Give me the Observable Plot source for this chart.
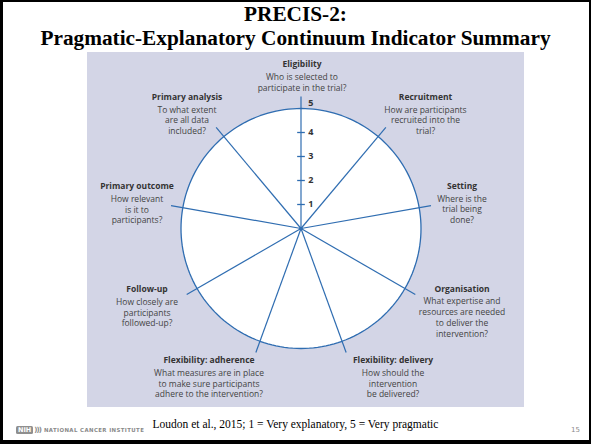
<!DOCTYPE html>
<html>
<head>
<meta charset="utf-8">
<script src="https://cdn.jsdelivr.net/npm/d3@7"></script>
<script src="https://cdn.jsdelivr.net/npm/@observablehq/plot@0.6"></script>
<style>
  html, body { margin: 0; padding: 0; background: #fff; }
  #slide { position: relative; width: 591px; height: 444px; overflow: hidden; background: #fff; }
  #frame { position: absolute; left: 0; top: 0; width: 591px; height: 444px; box-sizing: border-box;
           border-style: solid; border-color: #000; border-width: 2px 2px 4px 3px; pointer-events: none; }
  #title { position: absolute; left: 0; top: 2px; width: 591px; text-align: center;
           font-family: "Liberation Serif", "Times New Roman", serif; font-weight: bold;
           font-size: 21.3px; line-height: 24px; color: #000; }
  #chart { position: absolute; left: 87px; top: 52px; }
  #cite { position: absolute; left: 0; width: 591px; top: 418px; text-align: center;
          font-family: "Liberation Serif", "Times New Roman", serif; font-size: 11.5px; color: #000; }
  #nih { position: absolute; left: 16px; top: 426px; height: 8px; display: flex; align-items: center;
         font-family: "DejaVu Sans", sans-serif; color: #8a8a8a; }
  #nih .box { background: #8f8f8f; color: #fff; font-weight: bold; font-size: 6.5px; line-height: 8px;
              padding: 0 2px; border-radius: 1.5px; }
  #nih .chev { font-size: 7px; font-weight: bold; margin: 0 3px 0 1px; letter-spacing: -1px; }
  #nih .name { font-size: 5.4px; font-weight: bold; letter-spacing: 0.4px; }
  #page { position: absolute; left: 571px; top: 426px; font-family: "DejaVu Sans", sans-serif;
          font-size: 7px; color: #8a8a8a; }
</style>
</head>
<body>
<div id="slide">
  <div id="title">PRECIS-2:<br>Pragmatic-Explanatory Continuum Indicator Summary</div>
  <div id="chart"></div>
  <div id="cite">Loudon et al., 2015; 1 = Very explanatory, 5 = Very pragmatic</div>
  <div id="nih"><span class="box">NIH</span><span class="chev">)))</span><span class="name">NATIONAL CANCER INSTITUTE</span></div>
  <div id="page">15</div>
  <div id="frame"></div>
</div>
<script>
// ---- data ----
const domains = [
  "Eligibility", "Recruitment", "Setting", "Organisation", "Flexibility: delivery",
  "Flexibility: adherence", "Follow-up", "Primary outcome", "Primary analysis"
];
const questions = [
  "Who is selected to\nparticipate in the trial?",
  "How are participants\nrecruited into the\ntrial?",
  "Where is the\ntrial being\ndone?",
  "What expertise and\nresources are needed\nto deliver the\nintervention?",
  "How should the\nintervention\nbe delivered?",
  "What measures are in place\nto make sure participants\nadhere to the intervention?",
  "How closely are\nparticipants\nfollowed-up?",
  "How relevant\nis it to\nparticipants?",
  "To what extent\nare all data\nincluded?"
];
const scaleTicks = [1, 2, 3, 4, 5];
const scaleMin = 0, scaleMax = 5;

// ---- layout (not data) ----
const unit = 24;                 // px per scale unit
const W = 437, H = 355, cx = 213.5, cy = 176;
const spokeLen = 5.5;
// label anchor offsets from centre, in px (right, down)
const labelOffsets = [
  [1, -164], [124.5, -131.3], [161, -42.3], [161, 60.3], [92, 132],
  [-92, 132], [-154, 61], [-164, -42], [-114, -131.3]
];
const blue = "#2f6db1";

const step = 360 / domains.length;
const spokes = domains.map((d, i) => {
  const a = (i * step) * Math.PI / 180;
  return {domain: d, x: spokeLen * Math.sin(a), y: spokeLen * Math.cos(a)};
});
const circle = d3.range(0, 361, 2).map(t => {
  const a = t * Math.PI / 180;
  return {x: scaleMax * Math.sin(a), y: scaleMax * Math.cos(a)};
});
const labels = domains.map((d, i) => ({
  domain: d, question: questions[i],
  x: labelOffsets[i][0] / unit, y: -labelOffsets[i][1] / unit
}));

const fontFamily = "'Open Sans', sans-serif";
const plot = Plot.plot({
  width: W, height: H, margin: 0,
  x: {domain: [-cx / unit, (W - cx) / unit], axis: null},
  y: {domain: [-(H - cy) / unit, cy / unit], axis: null},
  style: {background: "#d3d5e6", fontFamily, overflow: "visible"},
  marks: [
    Plot.line(circle, {x: "x", y: "y", fill: "white", stroke: blue, strokeWidth: 1.3}),
    Plot.link(spokes, {x1: scaleMin, y1: scaleMin, x2: "x", y2: "y", stroke: blue, strokeWidth: 1.2}),
    Plot.link(scaleTicks.filter(v => v < scaleMax), {x1: -0.16, x2: 0.16, y1: d => d, y2: d => d, stroke: blue, strokeWidth: 1.3}),
    Plot.dot([scaleMin], {x: scaleMin, y: scaleMin, r: 1.8, fill: blue, stroke: null}),
    Plot.text(scaleTicks.filter(v => v < scaleMax), {x: 0.3, y: d => d, text: d => String(d), textAnchor: "start",
      fontWeight: "bold", fontSize: 9, fill: "#333"}),
    Plot.text(scaleTicks.filter(v => v === scaleMax), {x: 0.3, y: d => d, dy: -5, text: d => String(d), textAnchor: "start",
      fontWeight: "bold", fontSize: 9, fill: "#333"}),
    Plot.text(labels, {x: "x", y: "y", text: "domain", fontWeight: "bold", fontSize: 8.5, fill: "#333"}),
    Plot.text(labels, {x: "x", y: "y", text: "question", lineAnchor: "top", dy: 7.7, lineHeight: 1.27,
      fontSize: 8.5, fill: "#444"})
  ]
});
document.getElementById("chart").appendChild(plot);
</script>
</body>
</html>
